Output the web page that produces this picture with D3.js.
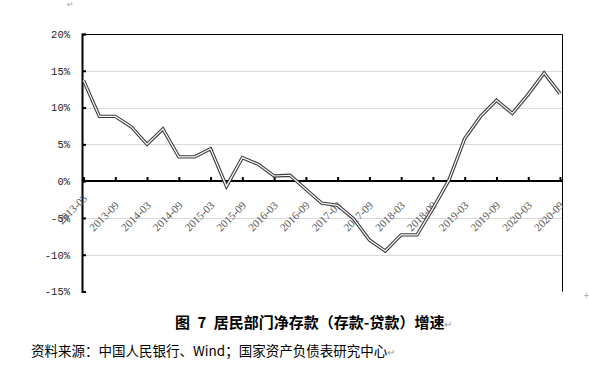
<!DOCTYPE html>
<html>
<head>
<meta charset="utf-8">
<script src="https://cdn.jsdelivr.net/npm/d3@7"></script>
<style>
    body { margin: 0; background: #fff; }
    svg { display: block; }
</style>
</head>
<body>
<svg id="chart"></svg>
<script>
var width = 589;
var height = 371;

var margin = {
    top: 34,
    right: 27,
    bottom: 79.5,
    left: 82
};

// quarterly categories
var categories = ["2013-03", "2013-06", "2013-09", "2013-12", "2014-03", "2014-06", "2014-09", "2014-12",
    "2015-03", "2015-06", "2015-09", "2015-12", "2016-03", "2016-06", "2016-09", "2016-12",
    "2017-03", "2017-06", "2017-09", "2017-12", "2018-03", "2018-06", "2018-09", "2018-12",
    "2019-03", "2019-06", "2019-09", "2019-12", "2020-03", "2020-06", "2020-09"];

// net deposit growth, %
var growth = [13.7, 8.8, 8.8, 7.4, 5.0, 7.1, 3.3, 3.3,
    4.4, -0.7, 3.2, 2.3, 0.7, 0.8, -1.1, -3.0,
    -3.3, -5.1, -8.0, -9.5, -7.3, -7.3, -3.7, 0.1,
    5.8, 8.8, 11.0, 9.2, 11.8, 14.7, 11.9];

var yTicks = [20, 15, 10, 5, 0, -5, -10, -15];
var xLabels = categories.filter(function(d, i) { return i % 2 === 0; });

var title = "图\u20027\u2002居民部门净存款（存款-贷款）增速";
var source = "资料来源：中国人民银行、Wind；国家资产负债表研究中心";

var chartWidth = width - margin.left - margin.right;
var chartHeight = height - margin.top - margin.bottom;
var chartBottom = margin.top + chartHeight;

var svg = d3.select("#chart")
    .attr("width", width)
    .attr("height", height);

var xScale = d3.scalePoint()
    .domain(categories)
    .range([margin.left + 1.5, margin.left + chartWidth - 2]);

var yScale = d3.scaleLinear()
    .domain([-15, 20])
    .range([chartBottom, margin.top]);

// gridlines
svg.append("g")
    .selectAll("line")
    .data(yTicks.filter(function(d) { return d !== -15; }))
    .enter().append("line")
    .attr("x1", margin.left)
    .attr("x2", margin.left + chartWidth)
    .attr("y1", function(d) { return Math.round(yScale(d)) + 0.5; })
    .attr("y2", function(d) { return Math.round(yScale(d)) + 0.5; })
    .attr("stroke", "#d9d9d9")
    .attr("stroke-width", 1);

// top and right border
svg.append("path")
    .attr("d", "M" + margin.left + "," + (margin.top + 0.5) + "H" + (margin.left + chartWidth + 0.5) + "V" + chartBottom)
    .attr("fill", "none")
    .attr("stroke", "#000")
    .attr("stroke-width", 1);

// y-axis
var yAxis = svg.append("g")
    .attr("transform", "translate(" + margin.left + ",0)")
    .call(d3.axisLeft(yScale)
        .tickValues(yTicks)
        .tickSize(-4)
        .tickPadding(12)
        .tickFormat(function(d) { return d + "%"; }));

yAxis.select(".domain").attr("stroke-width", 2).attr("stroke", "#000");
yAxis.selectAll(".tick line").attr("stroke", "#000").attr("stroke-width", 2);
yAxis.selectAll("text")
    .style("font-family", "'Liberation Mono', monospace")
    .style("font-size", "10.5px")
    .attr("fill", "#222");

// x-axis on the zero line
var xAxis = svg.append("g")
    .attr("transform", "translate(0," + Math.round(yScale(0)) + ")")
    .call(d3.axisBottom(xScale)
        .tickValues(xLabels)
        .tickSize(-4));

xAxis.select(".domain").remove();
xAxis.append("line")
    .attr("x1", margin.left)
    .attr("x2", margin.left + chartWidth)
    .attr("stroke", "#000")
    .attr("stroke-width", 2);
xAxis.selectAll(".tick line").attr("stroke", "#000").attr("stroke-width", 2);
xAxis.selectAll("text")
    .attr("y", 0)
    .attr("dy", 0)
    .style("text-anchor", "end")
    .style("font-family", "'Liberation Serif', serif")
    .style("font-size", "11px")
    .attr("fill", "#555")
    .attr("transform", function(d, i) {
        return "translate(4," + (i === 0 ? 18 : 25) + ") rotate(-45)";
    });

// double line
var line = d3.line()
    .x(function(d, i) { return xScale(categories[i]); })
    .y(function(d) { return yScale(d); });

svg.append("path")
    .datum(growth)
    .attr("d", line)
    .attr("fill", "none")
    .attr("stroke", "#3a3a3a")
    .attr("stroke-width", 3.4)
    .attr("stroke-linejoin", "miter");

svg.append("path")
    .datum(growth)
    .attr("d", line)
    .attr("fill", "none")
    .attr("stroke", "#fff")
    .attr("stroke-width", 1.2)
    .attr("stroke-linejoin", "miter");

// caption
var titleText = svg.append("text")
    .attr("x", 175)
    .attr("y", 328)
    .style("font-family", "'Noto Sans CJK SC', sans-serif")
    .style("font-size", "15px")
    .style("font-weight", "bold")
    .attr("fill", "#000");
titleText.append("tspan").text(title);
titleText.append("tspan")
    .style("font-weight", "normal")
    .style("font-size", "10px")
    .attr("fill", "#999")
    .text("↵");

var sourceText = svg.append("text")
    .attr("x", 31)
    .attr("y", 356)
    .style("font-family", "'Noto Sans CJK SC', sans-serif")
    .style("font-size", "13.5px")
    .attr("fill", "#000");
sourceText.append("tspan").text(source);
sourceText.append("tspan")
    .style("font-size", "10px")
    .attr("fill", "#999")
    .text("↵");

// stray editor marks
svg.append("text")
    .attr("x", 67)
    .attr("y", 7)
    .style("font-family", "'DejaVu Sans', sans-serif")
    .style("font-size", "8px")
    .attr("fill", "#999")
    .text("↵");

svg.append("text")
    .attr("x", 583)
    .attr("y", 298)
    .style("font-family", "'DejaVu Sans', sans-serif")
    .style("font-size", "8px")
    .attr("fill", "#aaa")
    .text("+");
</script>
</body>
</html>
